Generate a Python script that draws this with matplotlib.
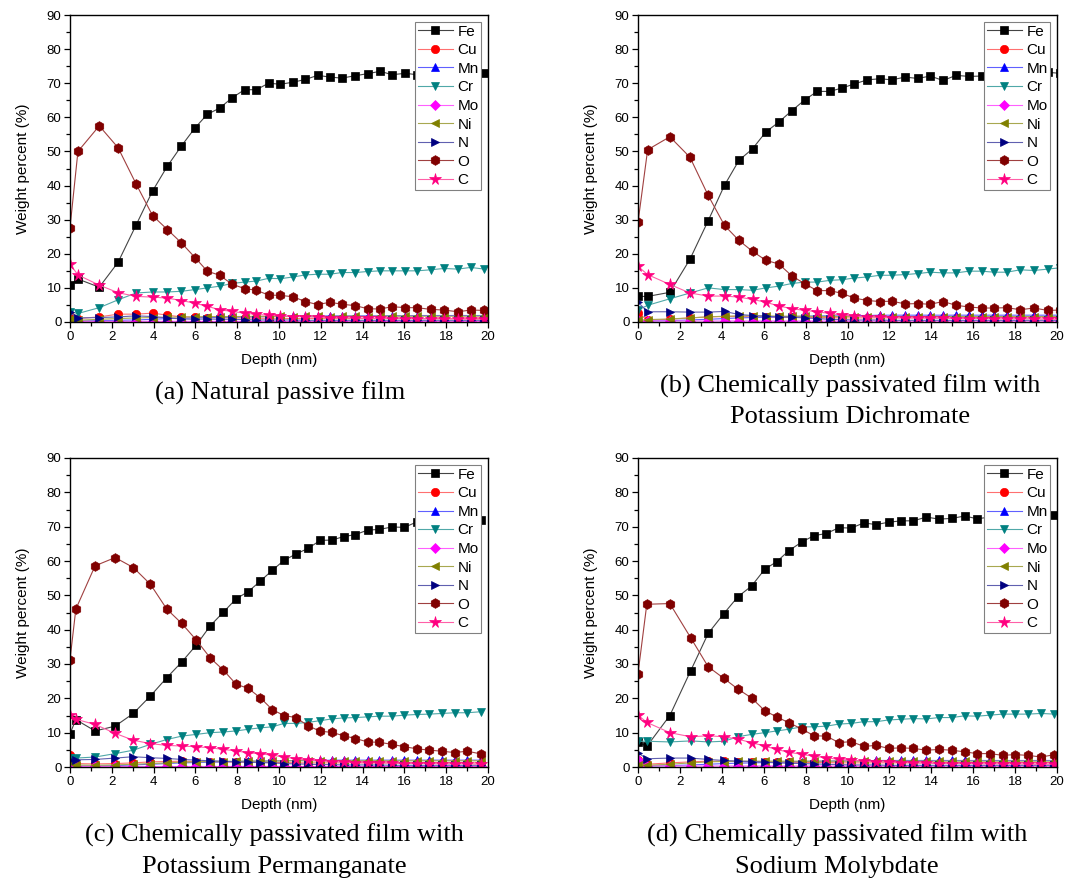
import matplotlib
matplotlib.use('Agg')
import matplotlib.pyplot as plt
from matplotlib.ticker import MultipleLocator

plt.rcParams['font.family'] = ['Liberation Sans', 'DejaVu Sans']

elements = ['Fe', 'Cu', 'Mn', 'Cr', 'Mo', 'Ni', 'N', 'O', 'C']

# ---- (a) natural passive film
depth_a = [0, 0.38, 1.4, 2.3, 3.16, 3.95, 4.66, 5.33,
           5.98, 6.57, 7.16, 7.75, 8.35, 8.92, 9.5, 10.07,
           10.67, 11.26, 11.85, 12.44, 13.0, 13.65, 14.24, 14.85,
           15.4, 16.05, 16.6, 17.25, 17.9, 18.55, 19.17, 19.83]
fe_a = [10.9, 12.6, 10.2, 17.5, 28.4, 38.4, 45.7, 51.6,
        56.9, 60.9, 62.7, 65.7, 68.1, 68.1, 70.0, 69.7,
        70.3, 71.1, 72.3, 71.8, 71.5, 72.2, 72.8, 73.5,
        72.5, 72.9, 72.5, 72.8, 73.0, 72.6, 73.2, 73.1]
cu_a = [1.8, 1.0, 1.5, 2.3, 2.3, 2.6, 2.0, 1.5,
        1.4, 1.3, 1.3, 1.2, 1.2, 1.1, 1.1, 1.1,
        1.0, 1.0, 1.0, 1.0, 1.0, 1.0, 1.0, 1.0,
        1.0, 1.0, 1.0, 1.0, 1.0, 1.0, 1.0, 1.0]
mn_a = [0.5, 0.3, 0.4, 0.5, 0.6, 0.8, 1.0, 1.1,
        1.2, 1.3, 1.4, 1.4, 1.5, 1.5, 1.6, 1.6,
        1.7, 1.7, 1.7, 1.8, 1.8, 1.8, 1.8, 1.8,
        1.9, 1.8, 1.9, 1.9, 1.9, 1.9, 1.9, 1.9]
cr_a = [3.0, 2.5, 4.2, 6.5, 8.5, 8.8, 8.8, 9.0,
        9.5, 10.0, 10.5, 11.3, 11.7, 12.0, 12.8, 12.7,
        13.2, 13.8, 14.0, 14.0, 14.5, 14.5, 14.8, 15.0,
        15.0, 15.0, 15.0, 15.3, 15.7, 15.5, 16.0, 15.5]
mo_a = [0.4, 0.2, 0.2, 0.2, 0.2, 0.2, 0.2, 0.2,
        0.2, 0.2, 0.2, 0.2, 0.2, 0.2, 0.2, 0.2,
        0.2, 0.2, 0.2, 0.2, 0.2, 0.2, 0.2, 0.2,
        0.2, 0.2, 0.2, 0.2, 0.2, 0.2, 0.2, 0.2]
ni_a = [1.0, 0.5, 0.8, 1.0, 1.2, 1.3, 1.4, 1.5,
        1.5, 1.6, 1.6, 1.6, 1.6, 1.7, 1.6, 1.7,
        1.6, 1.7, 1.7, 1.6, 1.7, 1.7, 1.6, 1.7,
        1.7, 1.7, 1.7, 1.7, 1.7, 1.7, 1.7, 1.7]
n_a = [2.8, 1.2, 1.3, 1.5, 1.8, 1.6, 1.2, 0.9,
       0.8, 0.9, 0.8, 0.8, 0.7, 0.6, 0.6, 0.6,
       0.6, 0.5, 0.5, 0.5, 0.5, 0.5, 0.5, 0.5,
       0.5, 0.5, 0.5, 0.5, 0.5, 0.5, 0.5, 0.5]
o_a = [27.7, 50.0, 57.5, 51.1, 40.5, 31.2, 27.1, 23.2,
       18.9, 14.9, 13.7, 11.1, 9.8, 9.3, 7.9, 7.8,
       7.4, 6.0, 5.1, 5.8, 5.2, 4.8, 3.9, 3.8,
       4.5, 4.2, 4.2, 3.7, 3.5, 3.0, 3.5, 3.4]
c_a = [17.0, 13.8, 10.8, 8.6, 7.5, 7.3, 7.0, 6.3,
       5.5, 4.6, 3.6, 3.1, 2.6, 2.2, 2.0, 1.8,
       1.6, 1.5, 1.4, 1.3, 1.3, 1.2, 1.1, 1.1,
       1.0, 1.0, 1.0, 0.9, 0.9, 0.9, 0.8, 0.8]

# ---- (b) potassium dichromate
depth_b = [0, 0.46, 1.52, 2.48, 3.35, 4.13, 4.82, 5.47,
           6.1, 6.72, 7.35, 7.96, 8.55, 9.15, 9.74, 10.33,
           10.95, 11.54, 12.12, 12.75, 13.35, 13.95, 14.56, 15.18,
           15.8, 16.4, 17.0, 17.6, 18.25, 18.9, 19.55, 20.15]
fe_b = [7.5, 7.5, 8.7, 18.4, 29.7, 40.1, 47.4, 50.8,
        55.7, 58.6, 62.0, 65.1, 67.6, 67.6, 68.6, 69.8,
        71.0, 71.3, 71.0, 71.8, 71.4, 72.1, 70.8, 72.3,
        72.0, 72.1, 72.5, 72.3, 72.8, 73.0, 73.2, 72.9]
cu_b = [2.7, 0.5, 0.8, 1.2, 1.5, 1.6, 1.6, 1.5,
        1.5, 1.4, 1.4, 1.3, 1.3, 1.3, 1.2, 1.2,
        1.2, 1.2, 1.2, 1.2, 1.2, 1.2, 1.2, 1.2,
        1.2, 1.2, 1.2, 1.2, 1.2, 1.2, 1.2, 1.2]
mn_b = [0.5, 0.3, 0.4, 0.6, 0.8, 1.0, 1.2, 1.3,
        1.4, 1.5, 1.6, 1.7, 1.8, 1.8, 1.8, 1.9,
        1.9, 2.0, 2.0, 2.0, 2.0, 2.0, 2.0, 2.0,
        2.0, 2.0, 2.0, 2.0, 2.0, 2.0, 2.0, 2.0]
cr_b = [3.5, 4.9, 6.8, 8.5, 10.0, 9.5, 9.5, 9.3,
        10.0, 10.5, 11.3, 11.7, 11.7, 12.2, 12.4, 12.9,
        13.2, 13.7, 13.7, 13.9, 14.2, 14.6, 14.4, 14.4,
        14.9, 14.9, 14.6, 14.6, 15.3, 15.1, 15.5, 15.9]
mo_b = [0.5, 0.3, 0.3, 0.3, 0.3, 0.3, 0.3, 0.3,
        0.3, 0.3, 0.3, 0.3, 0.3, 0.3, 0.3, 0.3,
        0.3, 0.3, 0.3, 0.3, 0.3, 0.3, 0.3, 0.3,
        0.3, 0.3, 0.3, 0.3, 0.3, 0.3, 0.3, 0.3]
ni_b = [0.5, 0.7, 0.9, 1.2, 1.5, 1.7, 1.8, 1.8,
        1.8, 1.7, 1.7, 1.7, 1.6, 1.6, 1.6, 1.6,
        1.6, 1.6, 1.6, 1.6, 1.6, 1.6, 1.6, 1.6,
        1.6, 1.6, 1.6, 1.6, 1.6, 1.6, 1.6, 1.6]
n_b = [5.8, 3.0, 3.0, 2.9, 2.9, 3.1, 2.2, 1.9,
       1.7, 1.5, 1.4, 1.2, 1.0, 0.8, 0.7, 0.6,
       0.6, 0.6, 0.5, 0.5, 0.5, 0.5, 0.5, 0.5,
       0.5, 0.5, 0.5, 0.5, 0.5, 0.5, 0.5, 0.5]
o_b = [29.2, 50.5, 54.3, 48.3, 37.1, 28.3, 23.9, 20.7,
       18.1, 17.0, 13.5, 11.2, 9.2, 9.2, 8.4, 7.0,
       6.3, 6.0, 6.1, 5.3, 5.4, 5.2, 6.0, 4.9,
       4.4, 4.1, 4.1, 4.2, 3.6, 4.1, 3.4, 3.5]
c_b = [16.3, 13.9, 11.0, 8.5, 7.6, 7.6, 7.3, 6.6,
       5.8, 4.7, 3.9, 3.4, 3.0, 2.5, 2.0, 1.7,
       1.5, 1.4, 1.3, 1.2, 1.2, 1.1, 1.1, 1.0,
       1.0, 1.0, 0.9, 0.9, 0.9, 0.9, 0.8, 0.8]

# ---- (c) potassium permanganate
depth_c = [0, 0.28, 1.2, 2.16, 3.03, 3.85, 4.63, 5.35,
           6.04, 6.72, 7.34, 7.95, 8.53, 9.1, 9.68, 10.24,
           10.8, 11.4, 11.97, 12.53, 13.09, 13.66, 14.24, 14.8,
           15.4, 16.0, 16.6, 17.2, 17.8, 18.4, 19.0, 19.67]
fe_c = [9.7, 13.8, 10.5, 11.9, 15.6, 20.7, 26.0, 30.6,
        35.5, 41.2, 45.1, 49.0, 51.1, 54.1, 57.3, 60.2,
        62.0, 63.7, 66.0, 66.1, 67.1, 67.7, 69.0, 69.2,
        69.9, 69.8, 71.4, 71.6, 71.8, 72.0, 72.3, 72.0]
cu_c = [3.4, 1.0, 0.9, 1.0, 1.2, 1.5, 1.6, 1.7,
        1.6, 1.5, 1.5, 1.4, 1.4, 1.3, 1.3, 1.3,
        1.2, 1.2, 1.2, 1.2, 1.2, 1.2, 1.2, 1.2,
        1.2, 1.2, 1.2, 1.2, 1.2, 1.2, 1.2, 1.2]
mn_c = [0.5, 0.3, 0.3, 0.4, 0.6, 0.8, 1.0, 1.2,
        1.3, 1.4, 1.5, 1.6, 1.7, 1.7, 1.8, 1.8,
        1.9, 1.9, 1.9, 2.0, 2.0, 2.0, 2.0, 2.0,
        2.0, 2.0, 2.0, 2.0, 2.0, 2.0, 2.0, 2.0]
cr_c = [2.6, 2.6, 2.9, 3.9, 4.9, 6.6, 8.0, 9.0,
        9.5, 10.0, 10.2, 10.5, 11.0, 11.4, 11.7, 12.7,
        12.7, 13.0, 13.5, 14.0, 14.3, 14.4, 14.6, 14.8,
        14.8, 15.1, 15.3, 15.4, 15.6, 15.8, 15.8, 16.1]
mo_c = [0.3, 0.3, 0.3, 0.3, 0.3, 0.3, 0.3, 0.3,
        0.3, 0.3, 0.3, 0.3, 0.3, 0.3, 0.3, 0.3,
        0.3, 0.3, 0.3, 0.3, 0.3, 0.3, 0.3, 0.3,
        0.3, 0.3, 0.3, 0.3, 0.3, 0.3, 0.3, 0.3]
ni_c = [1.5, 0.6, 0.5, 0.6, 0.8, 1.0, 1.2, 1.4,
        1.5, 1.6, 1.6, 1.7, 1.7, 1.7, 1.7, 1.8,
        1.8, 1.8, 1.8, 1.8, 1.8, 1.8, 1.8, 1.8,
        1.8, 1.8, 1.8, 1.8, 1.8, 1.8, 1.8, 1.8]
n_c = [2.0, 2.1, 2.2, 2.6, 3.0, 2.7, 2.5, 2.2,
       2.0, 1.8, 1.7, 1.5, 1.4, 1.3, 1.2, 1.0,
       0.9, 0.8, 0.7, 0.7, 0.6, 0.6, 0.6, 0.6,
       0.5, 0.5, 0.5, 0.5, 0.5, 0.5, 0.5, 0.5]
o_c = [31.3, 46.0, 58.6, 61.0, 58.1, 53.2, 46.0, 41.8,
       37.0, 31.7, 28.2, 24.1, 22.9, 20.2, 16.7, 15.0,
       14.4, 12.0, 10.4, 10.1, 9.1, 8.3, 7.3, 7.2,
       6.6, 5.9, 5.3, 4.9, 4.6, 4.2, 4.6, 3.8]
c_c = [15.1, 13.9, 12.4, 9.8, 7.8, 6.8, 6.3, 6.1,
       5.9, 5.6, 5.1, 4.7, 4.1, 3.9, 3.4, 2.9,
       2.4, 2.0, 1.8, 1.6, 1.4, 1.3, 1.2, 1.2,
       1.1, 1.0, 1.0, 1.0, 0.9, 0.9, 0.9, 0.8]

# ---- (d) sodium molybdate
depth_d = [0, 0.42, 1.52, 2.52, 3.35, 4.1, 4.77, 5.42,
           6.05, 6.62, 7.2, 7.81, 8.4, 8.99, 9.59, 10.18,
           10.78, 11.37, 11.96, 12.57, 13.15, 13.76, 14.36, 14.97,
           15.59, 16.19, 16.8, 17.4, 18.0, 18.6, 19.25, 19.87]
fe_d = [7.3, 6.0, 15.0, 28.1, 38.9, 44.7, 49.6, 52.7,
        57.6, 59.8, 63.0, 65.5, 67.4, 68.0, 69.7, 69.6,
        71.1, 70.6, 71.3, 71.7, 71.7, 72.8, 72.2, 72.4,
        73.1, 72.3, 72.8, 73.0, 72.6, 73.1, 72.9, 73.3]
cu_d = [2.0, 0.8, 1.2, 1.5, 1.7, 1.7, 1.6, 1.5,
        1.5, 1.4, 1.4, 1.3, 1.3, 1.3, 1.2, 1.2,
        1.2, 1.2, 1.2, 1.2, 1.2, 1.2, 1.2, 1.2,
        1.2, 1.2, 1.2, 1.2, 1.2, 1.2, 1.2, 1.2]
mn_d = [0.5, 0.3, 0.4, 0.6, 0.8, 1.0, 1.1, 1.2,
        1.3, 1.4, 1.5, 1.6, 1.7, 1.7, 1.8, 1.8,
        1.8, 1.9, 1.9, 1.9, 1.9, 1.9, 1.9, 1.9,
        1.9, 1.9, 1.9, 1.9, 1.9, 1.9, 1.9, 1.9]
cr_d = [7.5, 7.5, 7.3, 7.6, 7.3, 7.5, 8.8, 9.5,
        10.0, 10.5, 11.0, 11.7, 11.7, 11.9, 12.5, 12.7,
        13.2, 13.2, 13.7, 13.9, 14.1, 14.0, 14.4, 14.4,
        14.9, 14.8, 15.1, 15.4, 15.4, 15.4, 15.6, 15.4]
mo_d = [2.0, 0.4, 0.3, 0.3, 0.3, 0.3, 0.3, 0.3,
        0.3, 0.3, 0.3, 0.3, 0.3, 0.3, 0.3, 0.3,
        0.3, 0.3, 0.3, 0.3, 0.3, 0.3, 0.3, 0.3,
        0.3, 0.3, 0.3, 0.3, 0.3, 0.3, 0.3, 0.3]
ni_d = [0.5, 0.5, 0.8, 1.2, 1.5, 1.6, 1.7, 1.7,
        1.7, 1.7, 1.7, 1.7, 1.7, 1.7, 1.7, 1.7,
        1.7, 1.7, 1.7, 1.7, 1.7, 1.7, 1.7, 1.7,
        1.7, 1.7, 1.7, 1.7, 1.7, 1.7, 1.7, 1.7]
n_d = [4.1, 2.4, 2.6, 2.6, 2.2, 1.9, 1.7, 1.6,
       1.4, 1.2, 1.1, 1.0, 0.9, 0.8, 0.7, 0.6,
       0.6, 0.6, 0.5, 0.5, 0.5, 0.5, 0.5, 0.5,
       0.5, 0.5, 0.5, 0.5, 0.5, 0.5, 0.5, 0.5]
o_d = [27.2, 47.4, 47.6, 37.6, 29.2, 25.8, 22.7, 20.1,
       16.4, 14.6, 12.9, 11.1, 9.1, 9.0, 7.1, 7.4,
       6.0, 6.3, 5.4, 5.6, 5.4, 4.9, 5.1, 4.9,
       4.4, 3.9, 3.9, 3.4, 3.6, 3.4, 2.9, 3.6]
c_d = [15.1, 13.0, 10.0, 8.8, 9.1, 8.8, 8.1, 7.1,
       6.1, 5.1, 4.3, 3.7, 3.1, 2.7, 2.2, 2.0,
       1.7, 1.5, 1.4, 1.3, 1.2, 1.1, 1.0, 1.0,
       1.0, 0.9, 0.9, 0.9, 0.9, 0.8, 0.8, 0.8]

captions = [['(a) Natural passive film'],
            ['(b) Chemically passivated film with', 'Potassium Dichromate'],
            ['(c) Chemically passivated film with', 'Potassium Permanganate'],
            ['(d) Chemically passivated film with', 'Sodium Molybdate']]

# marker style per element (Origin-like)
markers = ['s', 'o', '^', 'v', 'D', '<', '>', 'h', '*']
mcolors = ['#000000', '#ff0000', '#0000ff', '#008080', '#ff00ff',
           '#808000', '#000080', '#800000', '#ff0080']
lcolors = ['#444444', '#ff7070', '#6060ff', '#50a8a8', '#ff60ff',
           '#a8a850', '#6060b0', '#a04040', '#ff60a8']
msizes = [5.5, 6, 6, 6, 5, 6, 6, 7, 8.5]

panels = [
    (depth_a, [fe_a, cu_a, mn_a, cr_a, mo_a, ni_a, n_a, o_a, c_a]),
    (depth_b, [fe_b, cu_b, mn_b, cr_b, mo_b, ni_b, n_b, o_b, c_b]),
    (depth_c, [fe_c, cu_c, mn_c, cr_c, mo_c, ni_c, n_c, o_c, c_c]),
    (depth_d, [fe_d, cu_d, mn_d, cr_d, mo_d, ni_d, n_d, o_d, c_d]),
]

W, H = 1066, 882
# axes boxes in pixels: left, top, right, bottom
boxes = [(70, 15, 488, 322), (638, 15, 1057, 322),
         (70, 458, 488, 767), (638, 458, 1057, 767)]
# caption centres (x, y of each line) in pixels
cap_x = [280, 850, 274, 837]
cap_y = [[393], [386, 417], [835, 867], [835, 867]]

fig = plt.figure(figsize=(W / 100, H / 100), dpi=100)

for i, (depth, series) in enumerate(panels):
    l, t, r, b = boxes[i]
    ax = fig.add_axes([l / W, 1 - b / H, (r - l) / W, (b - t) / H])
    for k, el in enumerate(elements):
        ax.plot(depth, series[k], color=lcolors[k], lw=0.8,
                marker=markers[k], ms=msizes[k], mfc=mcolors[k],
                mec=mcolors[k], mew=0.5, label=el)
    ax.set_xlim(0, 20)
    ax.set_ylim(0, 90)
    ax.xaxis.set_major_locator(MultipleLocator(2))
    ax.xaxis.set_minor_locator(MultipleLocator(1))
    ax.yaxis.set_major_locator(MultipleLocator(10))
    ax.yaxis.set_minor_locator(MultipleLocator(5))
    ax.tick_params(which='major', direction='out', length=4, width=0.9,
                   labelsize=9.5, pad=2.2)
    ax.tick_params(which='minor', direction='out', length=2.8, width=0.9)
    for sp in ax.spines.values():
        sp.set_linewidth(1.0)
    ax.set_xlabel('Depth (nm)', fontsize=11, labelpad=7.5)
    ax.set_ylabel('Weight percent (%)', fontsize=11, labelpad=12)
    leg = ax.legend(loc='upper right', bbox_to_anchor=(0.983, 0.976),
                    borderaxespad=0, fontsize=11, labelspacing=0.3,
                    handlelength=2.3, handletextpad=0.3, borderpad=0.15,
                    fancybox=False, framealpha=1, edgecolor='#808080')
    leg.get_frame().set_linewidth(0.8)
    for line, y in zip(captions[i], cap_y[i]):
        fig.text(cap_x[i] / W, 1 - y / H, line, ha='center', va='center',
                 fontsize=19, family=['Liberation Serif', 'DejaVu Serif'])

fig.savefig('out.png', dpi=100)
